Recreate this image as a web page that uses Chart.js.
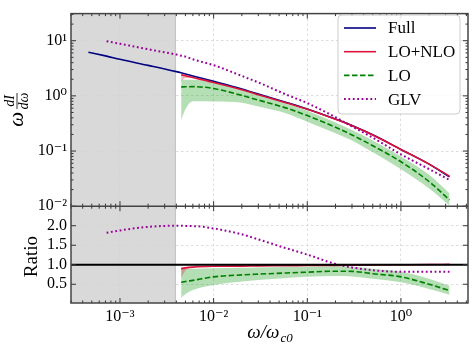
<!DOCTYPE html>
<html>
<head>
<meta charset="utf-8">
<script src="https://cdn.jsdelivr.net/npm/chart.js@4.4.0/dist/chart.umd.min.js"></script>
<style>
  html, body { margin: 0; padding: 0; background: #fff; }
</style>
</head>
<body>
<canvas id="chart" width="476" height="353"></canvas>
<script>
// omega / omega_c0 grid shared by all curves
const omega = [4.6e-4, 7.2e-4, 1e-3, 2e-3, 4e-3, 4.5e-3, 5e-3, 6e-3, 1e-2, 2e-2, 3e-2, 6e-2, 0.1, 0.2, 0.3, 0.5, 1, 2, 3.3];

// top panel: omega dI/domega
const fullVals = [6.2, 5.25, 4.6, 3.57, 2.75, 2.62, 2.5, 2.3, 1.83, 1.33, 1.08, 0.76, 0.58, 0.38, 0.29, 0.197, 0.107, 0.058, 0.034];
const nloVals  = [null, null, null, null, null, 2.41, 2.32, 2.15, 1.75, 1.29, 1.05, 0.745, 0.57, 0.375, 0.287, 0.195, 0.107, 0.058, 0.035];
const nloHigh  = [null, null, null, null, null, 2.45, 2.36, 2.18, 1.77, 1.31, 1.06, 0.755, 0.58, 0.38, 0.291, 0.198, 0.109, 0.059, 0.036];
const nloLow   = [null, null, null, null, null, 1.85, 2.1, 2.1, 1.73, 1.27, 1.04, 0.735, 0.56, 0.37, 0.283, 0.192, 0.105, 0.057, 0.034];
const loVals   = [null, null, null, null, null, 1.45, 1.46, 1.47, 1.36, 1.02, 0.84, 0.6, 0.44, 0.27, 0.196, 0.125, 0.064, 0.028, 0.013];
const loHigh   = [null, null, null, null, null, 1.96, 1.96, 1.96, 1.74, 1.25, 1.04, 0.72, 0.54, 0.33, 0.24, 0.155, 0.08, 0.037, 0.017];
const loLow    = [null, null, null, null, null, 0.36, 0.57, 0.8, 0.79, 0.75, 0.64, 0.48, 0.34, 0.21, 0.155, 0.095, 0.047, 0.021, 0.0103];
const glvVals  = [null, 9.8, 8.8, 7.0, 5.6, 5.35, 5.15, 4.6, 3.6, 2.3, 1.75, 1.05, 0.74, 0.41, 0.28, 0.175, 0.087, 0.047, 0.03];

// bottom panel: ratio to Full
const nloRatio     = [null, null, null, null, null, 0.9, 0.92, 0.94, 0.96, 0.965, 0.97, 0.975, 0.98, 0.985, 0.99, 0.995, 1.0, 1.005, 1.01];
const nloRatioHigh = [null, null, null, null, null, 0.93, 0.94, 0.95, 0.97, 0.975, 0.98, 0.985, 0.99, 0.99, 0.995, 1.0, 1.005, 1.01, 1.02];
const nloRatioLow  = [null, null, null, null, null, 0.66, 0.85, 0.92, 0.95, 0.955, 0.96, 0.965, 0.97, 0.975, 0.985, 0.99, 0.995, 1.0, 1.0];
const loRatio      = [null, null, null, null, null, 0.55, 0.57, 0.6, 0.69, 0.74, 0.76, 0.79, 0.81, 0.835, 0.83, 0.77, 0.69, 0.5, 0.34];
const loRatioHigh  = [null, null, null, null, null, 0.9, 0.9, 0.9, 0.91, 0.92, 0.93, 0.94, 0.95, 0.96, 0.95, 0.9, 0.82, 0.64, 0.46];
const loRatioLow   = [null, null, null, null, null, 0.15, 0.25, 0.35, 0.48, 0.57, 0.61, 0.66, 0.69, 0.71, 0.7, 0.64, 0.55, 0.38, 0.23];
const glvRatio     = [null, 1.82, 1.88, 1.97, 2.0, 2.0, 1.99, 1.99, 1.93, 1.78, 1.65, 1.42, 1.26, 1.02, 0.93, 0.86, 0.82, 0.82, 0.82];

// axis limits and tick labels
const xRange = [3.0e-4, 5.2];
const yRange = [1e-2, 31];
const ratioRange = [0.02, 2.5];
const xTicks = [1e-3, 1e-2, 1e-1, 1];
const yTicks = [1e-2, 1e-1, 1, 10];
const ratioTicks = [0.5, 1.0, 1.5, 2.0];
const shadeEdge = 0.0039;
const unity = 1.0;

const legendItems = ['Full', 'LO+NLO', 'LO', 'GLV'];

const NAVY = '#000080', CRIMSON = '#dc143c', GREEN = '#008000', PURPLE = '#990099';
const SERIF = '"Liberation Serif", "DejaVu Serif", serif';

function pts(vals) {
  const out = [];
  vals.forEach((v, i) => { if (v !== null) out.push({ x: omega[i], y: v }); });
  return out;
}

function sup(n) {
  const map = { '-': '\u207B', '0': '\u2070', '1': '\u00B9', '2': '\u00B2', '3': '\u00B3',
    '4': '\u2074', '5': '\u2075', '6': '\u2076', '7': '\u2077', '8': '\u2078', '9': '\u2079' };
  return String(n).split('').map(c => map[c]).join('');
}

function line(data, axis, color, order, extra) {
  return Object.assign({
    data: data, yAxisID: axis, borderColor: color, borderWidth: 1.6,
    pointRadius: 0, fill: false, cubicInterpolationMode: 'monotone', order: order
  }, extra || {});
}

function band(data, axis, order, fillColor) {
  return {
    data: data, yAxisID: axis, borderWidth: 0, borderColor: 'transparent',
    pointRadius: 0, cubicInterpolationMode: 'monotone', order: order,
    fill: fillColor ? '-1' : false, backgroundColor: fillColor || 'transparent'
  };
}

const datasets = [
  band(pts(nloHigh), 'y', 10),
  band(pts(nloLow), 'y', 10, 'rgba(220,20,60,0.3)'),
  band(pts(loHigh), 'y', 11),
  band(pts(loLow), 'y', 11, 'rgba(40,160,40,0.35)'),
  line(pts(fullVals), 'y', NAVY, 4),
  line(pts(nloVals), 'y', CRIMSON, 3),
  line(pts(loVals), 'y', GREEN, 2, { borderDash: [5.5, 2.5] }),
  line(pts(glvVals), 'y', PURPLE, 1, { borderDash: [1.8, 2.6], borderWidth: 2 }),

  band(pts(nloRatioHigh), 'yr', 10),
  band(pts(nloRatioLow), 'yr', 10, 'rgba(220,20,60,0.3)'),
  band(pts(loRatioHigh), 'yr', 11),
  band(pts(loRatioLow), 'yr', 11, 'rgba(40,160,40,0.35)'),
  line([{ x: xRange[0], y: unity }, { x: xRange[1], y: unity }], 'yr', '#000', 0, { borderWidth: 1.8 }),
  line(pts(nloRatio), 'yr', CRIMSON, 3),
  line(pts(loRatio), 'yr', GREEN, 2, { borderDash: [5.5, 2.5] }),
  line(pts(glvRatio), 'yr', PURPLE, 1, { borderDash: [1.8, 2.6], borderWidth: 2 })
];

// grey excluded region, drawn before the grid
const shadePlugin = {
  id: 'shade',
  beforeDraw(chart) {
    const { ctx, chartArea } = chart;
    const xr = chart.scales.x.getPixelForValue(shadeEdge);
    ctx.save();
    ctx.fillStyle = '#d9d9d9';
    ctx.fillRect(chartArea.left, chartArea.top, xr - chartArea.left, chartArea.bottom - chartArea.top);
    ctx.strokeStyle = '#bdbdbd';
    ctx.lineWidth = 1;
    ctx.beginPath();
    ctx.moveTo(xr, chartArea.top);
    ctx.lineTo(xr, chartArea.bottom);
    ctx.stroke();
    ctx.restore();
  }
};

function logMinors(lo, hi) {
  const out = [];
  for (let d = -5; d <= 2; d++) {
    for (let k = 2; k <= 9; k++) {
      const v = k * Math.pow(10, d);
      if (v > lo && v < hi) out.push(v);
    }
  }
  return out;
}

// frame, inward ticks, axis titles and legend
const framePlugin = {
  id: 'frame',
  afterDraw(chart) {
    const { ctx, chartArea } = chart;
    const x = chart.scales.x, y = chart.scales.y, yr = chart.scales.yr;
    const L = chartArea.left, R = chartArea.right, T = chartArea.top, B = chartArea.bottom;
    const mid = y.bottom;
    ctx.save();

    // ticks
    ctx.strokeStyle = '#333';
    ctx.lineWidth = 1;
    const tick = (x1, y1, x2, y2) => { ctx.beginPath(); ctx.moveTo(x1, y1); ctx.lineTo(x2, y2); ctx.stroke(); };
    const xMin = logMinors(xRange[0], xRange[1]);
    [[xTicks, 5], [xMin, 2.5]].forEach(([vals, len]) => {
      vals.forEach(v => {
        const px = x.getPixelForValue(v);
        tick(px, T, px, T + len);
        tick(px, mid - len, px, mid + len);
        tick(px, B, px, B - len);
      });
    });
    [[yTicks, 5], [logMinors(yRange[0], yRange[1]), 2.5]].forEach(([vals, len]) => {
      vals.forEach(v => {
        const py = y.getPixelForValue(v);
        tick(L, py, L + len, py);
        tick(R, py, R - len, py);
      });
    });
    ratioTicks.forEach(v => {
      const py = yr.getPixelForValue(v);
      tick(L, py, L + 5, py);
      tick(R, py, R - 5, py);
    });

    // frame and panel divider
    ctx.strokeStyle = '#444';
    ctx.lineWidth = 1.5;
    ctx.strokeRect(L, T, R - L, B - T);
    tick(L, mid, R, mid);

    // axis titles
    ctx.fillStyle = '#000';
    ctx.textBaseline = 'alphabetic';
    ctx.save();
    ctx.translate(17, 110);
    ctx.rotate(-Math.PI / 2);
    ctx.font = 'italic 21px ' + SERIF;
    ctx.textAlign = 'right';
    ctx.fillText('\u03C9', -2, 6);
    ctx.font = 'italic 14px ' + SERIF;
    ctx.textAlign = 'center';
    ctx.fillText('dI', 9, -3);
    ctx.fillText('d\u03C9', 9, 11);
    ctx.lineWidth = 0.8;
    ctx.strokeStyle = '#000';
    ctx.beginPath(); ctx.moveTo(1, 0); ctx.lineTo(17, 0); ctx.stroke();
    ctx.restore();

    ctx.save();
    ctx.translate(37, (yr.top + yr.bottom) / 2 + 2);
    ctx.rotate(-Math.PI / 2);
    ctx.font = '19px ' + SERIF;
    ctx.textAlign = 'center';
    ctx.fillText('Ratio', 0, 0);
    ctx.restore();

    ctx.font = 'italic 19px ' + SERIF;
    ctx.textAlign = 'left';
    const main = '\u03C9/\u03C9';
    const w1 = ctx.measureText(main).width;
    ctx.font = 'italic 13px ' + SERIF;
    const w2 = ctx.measureText('c0').width;
    const x0 = (L + R) / 2 - (w1 + w2) / 2;
    ctx.font = 'italic 19px ' + SERIF;
    ctx.fillText(main, x0, 338);
    ctx.font = 'italic 13px ' + SERIF;
    ctx.fillText('c0', x0 + w1 + 1, 342);

    // legend
    const lx = 338, ly = 15, lw = 122, lh = 99;
    ctx.beginPath();
    ctx.roundRect(lx, ly, lw, lh, 4);
    ctx.fillStyle = 'rgba(255,255,255,0.85)';
    ctx.fill();
    ctx.strokeStyle = '#cccccc';
    ctx.lineWidth = 1;
    ctx.stroke();
    const styles = [
      { c: NAVY, dash: [], w: 1.6 },
      { c: CRIMSON, dash: [], w: 1.6 },
      { c: GREEN, dash: [5.5, 2.5], w: 1.6 },
      { c: PURPLE, dash: [1.8, 2.6], w: 2 }
    ];
    ctx.font = '17px ' + SERIF;
    ctx.textBaseline = 'middle';
    legendItems.forEach((name, i) => {
      const ry = 28 + i * 23.7;
      ctx.strokeStyle = styles[i].c;
      ctx.lineWidth = styles[i].w;
      ctx.setLineDash(styles[i].dash);
      ctx.beginPath(); ctx.moveTo(344, ry); ctx.lineTo(376, ry); ctx.stroke();
      ctx.setLineDash([]);
      ctx.fillStyle = '#000';
      ctx.fillText(name, 388, ry + 1);
    });
    ctx.restore();
  }
};

const gridOpts = { color: '#d4d4d4', lineWidth: 0.8, drawTicks: false };
const borderOpts = { display: false, dash: [2.5, 2.5] };
const tickFont = { family: SERIF, size: 16 };

new Chart(document.getElementById('chart'), {
  type: 'line',
  data: { datasets: datasets },
  options: {
    responsive: false,
    animation: false,
    layout: { padding: { top: 7, right: 8, left: 0, bottom: 0 } },
    plugins: { legend: { display: false }, tooltip: { enabled: false } },
    scales: {
      x: {
        type: 'logarithmic', min: xRange[0], max: xRange[1],
        grid: gridOpts, border: borderOpts,
        afterBuildTicks: s => { s.ticks = xTicks.map(v => ({ value: v })); },
        afterFit: s => { s.height = 50; },
        ticks: { font: tickFont, color: '#000', padding: 4, maxRotation: 0, autoSkip: false,
          callback: v => '10' + sup(Math.round(Math.log10(v))) }
      },
      yr: {
        type: 'linear', position: 'left', stack: 'panels', stackWeight: 99,
        min: ratioRange[0], max: ratioRange[1],
        grid: gridOpts, border: borderOpts,
        afterBuildTicks: s => { s.ticks = ratioTicks.map(v => ({ value: v })); },
        afterFit: s => { s.width = 71; },
        ticks: { font: tickFont, color: '#000', padding: 4, autoSkip: false,
          callback: v => v.toFixed(1) }
      },
      y: {
        type: 'logarithmic', position: 'left', stack: 'panels', stackWeight: 197,
        min: yRange[0], max: yRange[1],
        grid: gridOpts, border: borderOpts,
        afterBuildTicks: s => { s.ticks = yTicks.map(v => ({ value: v })); },
        afterFit: s => { s.width = 71; },
        ticks: { font: tickFont, color: '#000', padding: 4, autoSkip: false,
          callback: v => '10' + sup(Math.round(Math.log10(v))) }
      }
    }
  },
  plugins: [shadePlugin, framePlugin]
});
</script>
</body>
</html>
